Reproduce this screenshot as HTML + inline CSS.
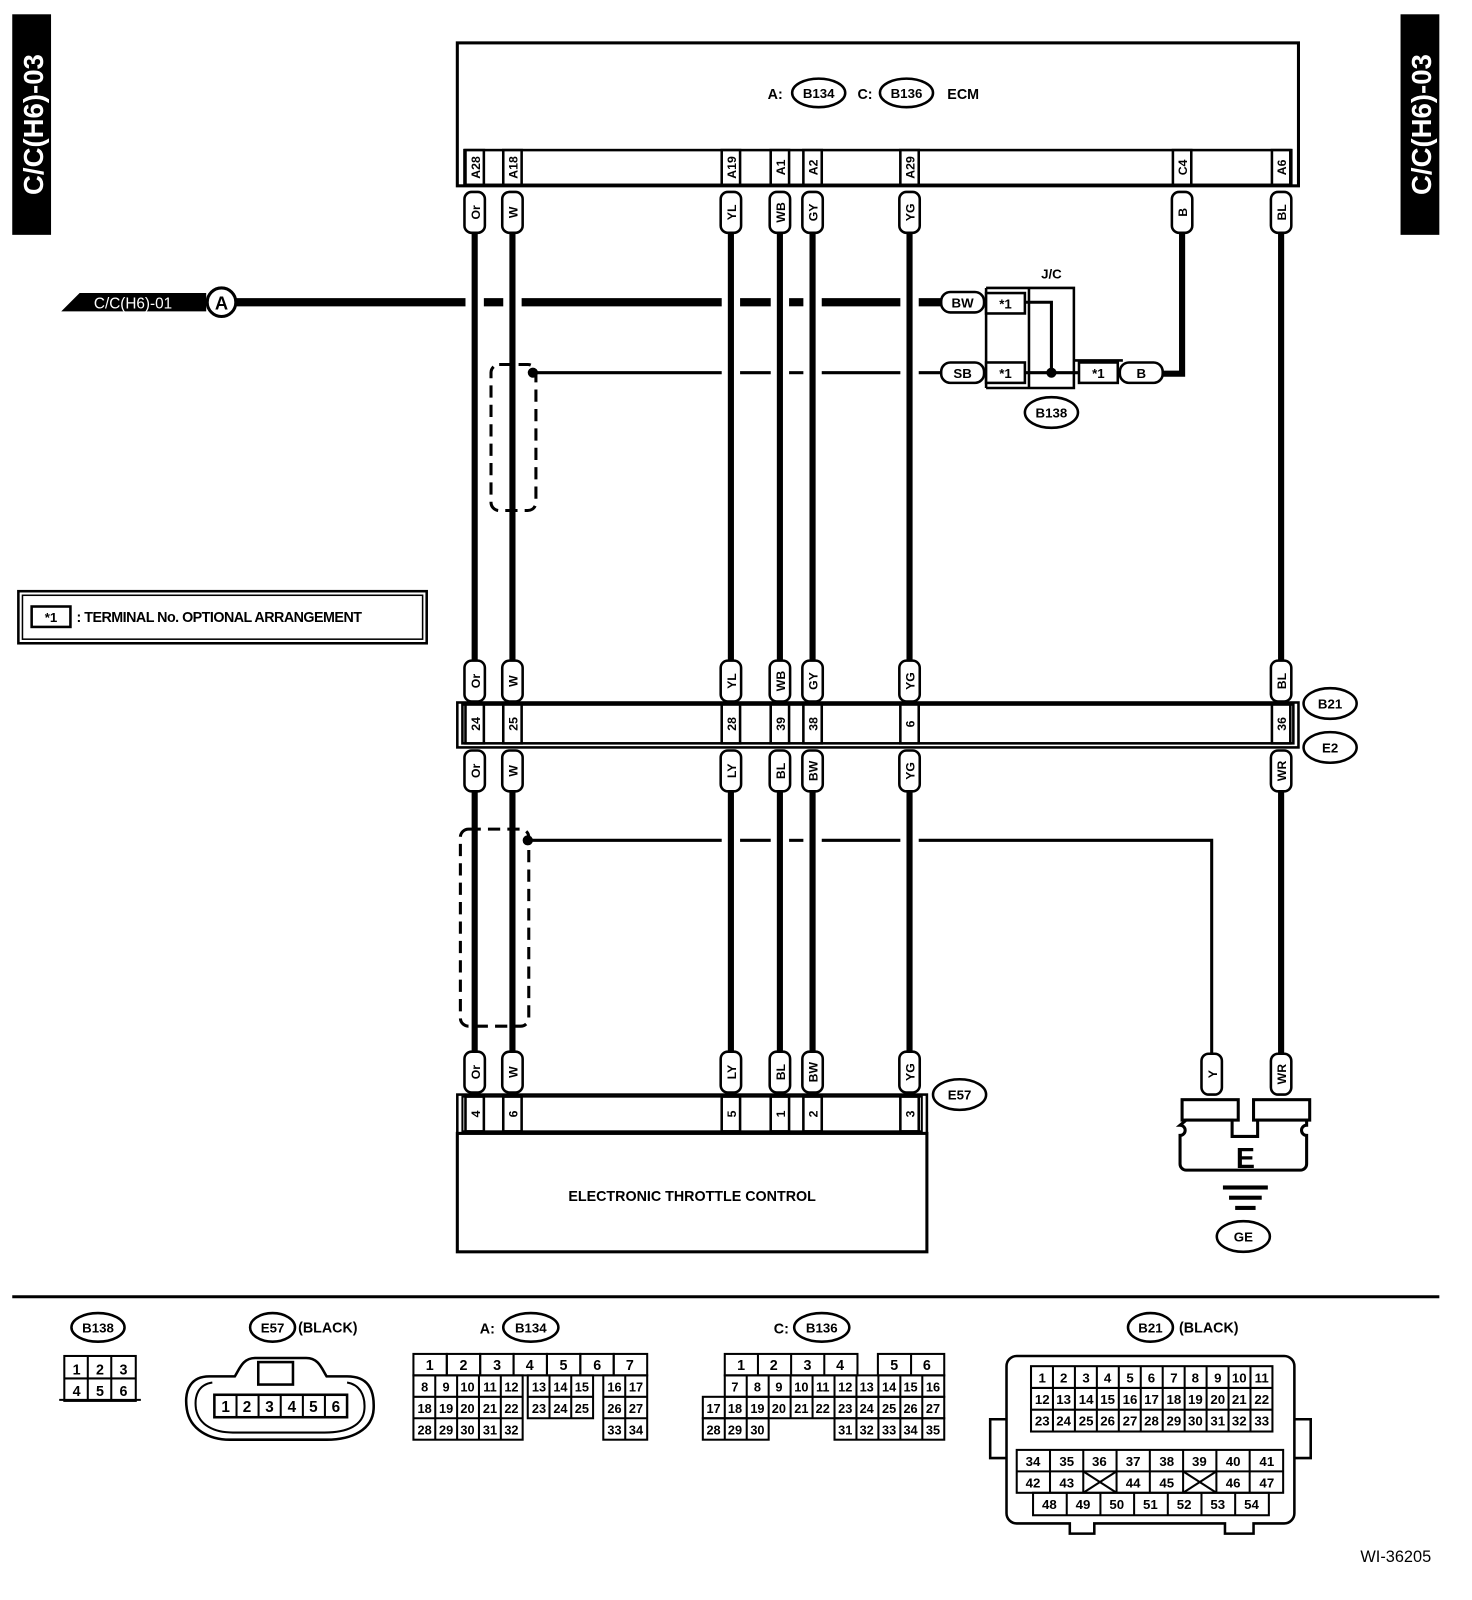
<!DOCTYPE html>
<html><head><meta charset="utf-8"><style>
html,body{margin:0;padding:0;background:#fff}
svg{display:block}
text{font-family:"Liberation Sans",sans-serif;font-weight:bold;fill:#000}
</style></head><body>
<svg width="1472" height="1600" viewBox="0 0 1442 1567" preserveAspectRatio="none" xmlns="http://www.w3.org/2000/svg">
<defs>
<g id="cap"><rect x="-10" y="0" width="20" height="40" rx="7" fill="#fff" stroke="#000" stroke-width="2.5"/></g>
</defs>
<rect x="12" y="14" width="38" height="216" fill="#000"/>
<text transform="translate(42,122) rotate(-90)" text-anchor="middle" font-size="27" style="fill:#fff">C/C(H6)-03</text>
<rect x="1372" y="14" width="38" height="216" fill="#000"/>
<text transform="translate(1402,122) rotate(-90)" text-anchor="middle" font-size="27" style="fill:#fff">C/C(H6)-03</text>

<rect x="448" y="42" width="824" height="140" fill="none" stroke="#000" stroke-width="3"/>
<text x="752" y="97" font-size="14">A:</text>
<ellipse cx="802" cy="91" rx="26" ry="14" fill="none" stroke="#000" stroke-width="2.5"/>
<text x="802" y="96" font-size="13" text-anchor="middle">B134</text>
<text x="840" y="97" font-size="14">C:</text>
<ellipse cx="888" cy="91" rx="26" ry="14" fill="none" stroke="#000" stroke-width="2.5"/>
<text x="888" y="96" font-size="13" text-anchor="middle">B136</text>
<text x="928" y="97" font-size="14">ECM</text>
<rect x="455" y="147" width="810" height="34" fill="none" stroke="#000" stroke-width="2.5"/>
<g fill="#fff" stroke="#000" stroke-width="2.5">
<rect x="456" y="147" width="18" height="34"/><rect x="493" y="147" width="18" height="34"/>
<rect x="707" y="147" width="18" height="34"/><rect x="755" y="147" width="18" height="34"/>
<rect x="787" y="147" width="18" height="34"/><rect x="882" y="147" width="18" height="34"/>
<rect x="1149" y="147" width="18" height="34"/><rect x="1246" y="147" width="18" height="34"/>
</g>
<g font-size="12">
<text transform="translate(470,164) rotate(-90)" text-anchor="middle">A28</text>
<text transform="translate(507,164) rotate(-90)" text-anchor="middle">A18</text>
<text transform="translate(721,164) rotate(-90)" text-anchor="middle">A19</text>
<text transform="translate(769,164) rotate(-90)" text-anchor="middle">A1</text>
<text transform="translate(801,164) rotate(-90)" text-anchor="middle">A2</text>
<text transform="translate(896,164) rotate(-90)" text-anchor="middle">A29</text>
<text transform="translate(1163,164) rotate(-90)" text-anchor="middle">C4</text>
<text transform="translate(1260,164) rotate(-90)" text-anchor="middle">A6</text>
</g>

<g stroke="#000" stroke-width="6">
<line x1="465" y1="228" x2="465" y2="650"/><line x1="502" y1="228" x2="502" y2="650"/>
<line x1="716" y1="228" x2="716" y2="650"/><line x1="764" y1="228" x2="764" y2="650"/>
<line x1="796" y1="228" x2="796" y2="650"/><line x1="891" y1="228" x2="891" y2="650"/>
<line x1="1255" y1="228" x2="1255" y2="650"/>
</g>
<polyline points="1158,228 1158,366 1138,366" fill="none" stroke="#000" stroke-width="6"/>

<g stroke="#000" stroke-width="8">
<line x1="230" y1="296" x2="456" y2="296"/><line x1="474" y1="296" x2="493" y2="296"/>
<line x1="511" y1="296" x2="707" y2="296"/><line x1="725" y1="296" x2="755" y2="296"/>
<line x1="773" y1="296" x2="787" y2="296"/><line x1="805" y1="296" x2="882" y2="296"/>
<line x1="900" y1="296" x2="925" y2="296"/>
</g>
<polygon points="60,305 78,287 202,287 202,305" fill="#000"/>
<text x="92" y="302" font-size="15" style="fill:#fff;font-weight:normal">C/C(H6)-01</text>
<circle cx="217" cy="296" r="14" fill="#fff" stroke="#000" stroke-width="3"/>
<text x="217" y="303" font-size="18" text-anchor="middle">A</text>

<g stroke="#000" stroke-width="3">
<line x1="522" y1="365" x2="707" y2="365"/><line x1="725" y1="365" x2="755" y2="365"/>
<line x1="773" y1="365" x2="787" y2="365"/><line x1="805" y1="365" x2="882" y2="365"/>
<line x1="900" y1="365" x2="925" y2="365"/>
</g>
<circle cx="522" cy="365" r="5" fill="#000"/>
<rect x="481" y="357" width="44" height="143" rx="8" fill="none" stroke="#000" stroke-width="3" stroke-dasharray="12,7"/>

<text x="1030" y="273" font-size="13" text-anchor="middle">J/C</text>
<g fill="none" stroke="#000" stroke-width="2.5">
<polyline points="966,282 1052,282 1052,380 966,380"/>
<line x1="966" y1="282" x2="966" y2="380"/>
<line x1="1008" y1="282" x2="1008" y2="380"/>
<line x1="1052" y1="353" x2="1100" y2="353"/>
</g>
<rect x="966" y="287" width="38" height="20" fill="#fff" stroke="#000" stroke-width="2.5"/>
<text x="985" y="302" font-size="13" text-anchor="middle">*1</text>
<rect x="966" y="355" width="38" height="20" fill="#fff" stroke="#000" stroke-width="2.5"/>
<text x="985" y="370" font-size="13" text-anchor="middle">*1</text>
<rect x="1057" y="355" width="38" height="20" fill="#fff" stroke="#000" stroke-width="2.5"/>
<text x="1076" y="370" font-size="13" text-anchor="middle">*1</text>
<polyline points="1004,296 1030,296 1030,365" fill="none" stroke="#000" stroke-width="3"/>
<line x1="1004" y1="365" x2="1057" y2="365" stroke="#000" stroke-width="3"/>
<circle cx="1030" cy="365" r="5" fill="#000"/>
<rect x="922" y="286" width="42" height="20" rx="9" fill="#fff" stroke="#000" stroke-width="2.5"/>
<text x="943" y="301" font-size="13" text-anchor="middle">BW</text>
<rect x="922" y="355" width="42" height="20" rx="9" fill="#fff" stroke="#000" stroke-width="2.5"/>
<text x="943" y="370" font-size="13" text-anchor="middle">SB</text>
<rect x="1097" y="355" width="42" height="20" rx="9" fill="#fff" stroke="#000" stroke-width="2.5"/>
<text x="1118" y="370" font-size="13" text-anchor="middle">B</text>
<ellipse cx="1030" cy="404" rx="26" ry="15" fill="#fff" stroke="#000" stroke-width="2.5"/>
<text x="1030" y="409" font-size="13" text-anchor="middle">B138</text>

<g font-size="12">
<use href="#cap" x="465" y="188"/><text transform="translate(470,208) rotate(-90)" text-anchor="middle">Or</text>
<use href="#cap" x="502" y="188"/><text transform="translate(507,208) rotate(-90)" text-anchor="middle">W</text>
<use href="#cap" x="716" y="188"/><text transform="translate(721,208) rotate(-90)" text-anchor="middle">YL</text>
<use href="#cap" x="764" y="188"/><text transform="translate(769,208) rotate(-90)" text-anchor="middle">WB</text>
<use href="#cap" x="796" y="188"/><text transform="translate(801,208) rotate(-90)" text-anchor="middle">GY</text>
<use href="#cap" x="891" y="188"/><text transform="translate(896,208) rotate(-90)" text-anchor="middle">YG</text>
<use href="#cap" x="1158" y="188"/><text transform="translate(1163,208) rotate(-90)" text-anchor="middle">B</text>
<use href="#cap" x="1255" y="188"/><text transform="translate(1260,208) rotate(-90)" text-anchor="middle">BL</text>
</g>

<rect x="18" y="579" width="400" height="51" fill="none" stroke="#000" stroke-width="2.5"/>
<rect x="22" y="583" width="392" height="43" fill="none" stroke="#000" stroke-width="1.5"/>
<rect x="31" y="594" width="38" height="20" fill="none" stroke="#000" stroke-width="2.5"/>
<text x="50" y="609" font-size="13" text-anchor="middle">*1</text>
<text x="75" y="609" font-size="14" letter-spacing="-0.5">: TERMINAL No. OPTIONAL ARRANGEMENT</text>

<rect x="448" y="688" width="824" height="44" fill="none" stroke="#000" stroke-width="2.5"/>
<rect x="453" y="690" width="814" height="38" fill="none" stroke="#000" stroke-width="2.5"/>
<g fill="#fff" stroke="#000" stroke-width="2.5">
<rect x="456" y="690" width="18" height="38"/><rect x="493" y="690" width="18" height="38"/>
<rect x="707" y="690" width="18" height="38"/><rect x="755" y="690" width="18" height="38"/>
<rect x="787" y="690" width="18" height="38"/><rect x="882" y="690" width="18" height="38"/>
<rect x="1246" y="690" width="18" height="38"/>
</g>
<g font-size="12">
<text transform="translate(470,709) rotate(-90)" text-anchor="middle">24</text>
<text transform="translate(507,709) rotate(-90)" text-anchor="middle">25</text>
<text transform="translate(721,709) rotate(-90)" text-anchor="middle">28</text>
<text transform="translate(769,709) rotate(-90)" text-anchor="middle">39</text>
<text transform="translate(801,709) rotate(-90)" text-anchor="middle">38</text>
<text transform="translate(896,709) rotate(-90)" text-anchor="middle">6</text>
<text transform="translate(1260,709) rotate(-90)" text-anchor="middle">36</text>
<use href="#cap" x="465" y="647"/><text transform="translate(470,667) rotate(-90)" text-anchor="middle">Or</text>
<use href="#cap" x="502" y="647"/><text transform="translate(507,667) rotate(-90)" text-anchor="middle">W</text>
<use href="#cap" x="716" y="647"/><text transform="translate(721,667) rotate(-90)" text-anchor="middle">YL</text>
<use href="#cap" x="764" y="647"/><text transform="translate(769,667) rotate(-90)" text-anchor="middle">WB</text>
<use href="#cap" x="796" y="647"/><text transform="translate(801,667) rotate(-90)" text-anchor="middle">GY</text>
<use href="#cap" x="891" y="647"/><text transform="translate(896,667) rotate(-90)" text-anchor="middle">YG</text>
<use href="#cap" x="1255" y="647"/><text transform="translate(1260,667) rotate(-90)" text-anchor="middle">BL</text>
<use href="#cap" x="465" y="735"/><text transform="translate(470,755) rotate(-90)" text-anchor="middle">Or</text>
<use href="#cap" x="502" y="735"/><text transform="translate(507,755) rotate(-90)" text-anchor="middle">W</text>
<use href="#cap" x="716" y="735"/><text transform="translate(721,755) rotate(-90)" text-anchor="middle">LY</text>
<use href="#cap" x="764" y="735"/><text transform="translate(769,755) rotate(-90)" text-anchor="middle">BL</text>
<use href="#cap" x="796" y="735"/><text transform="translate(801,755) rotate(-90)" text-anchor="middle">BW</text>
<use href="#cap" x="891" y="735"/><text transform="translate(896,755) rotate(-90)" text-anchor="middle">YG</text>
<use href="#cap" x="1255" y="735"/><text transform="translate(1260,755) rotate(-90)" text-anchor="middle">WR</text>
</g>
<ellipse cx="1303" cy="689" rx="26" ry="15" fill="#fff" stroke="#000" stroke-width="2.5"/>
<text x="1303" y="694" font-size="13" text-anchor="middle">B21</text>
<ellipse cx="1303" cy="732" rx="26" ry="15" fill="#fff" stroke="#000" stroke-width="2.5"/>
<text x="1303" y="737" font-size="13" text-anchor="middle">E2</text>

<g stroke="#000" stroke-width="6">
<line x1="465" y1="775" x2="465" y2="1030"/><line x1="502" y1="775" x2="502" y2="1030"/>
<line x1="716" y1="775" x2="716" y2="1030"/><line x1="764" y1="775" x2="764" y2="1030"/>
<line x1="796" y1="775" x2="796" y2="1030"/><line x1="891" y1="775" x2="891" y2="1030"/>
<line x1="1255" y1="775" x2="1255" y2="1032"/>
</g>
<polyline points="517,823 707,823" stroke="#000" stroke-width="3" fill="none"/>
<line x1="725" y1="823" x2="755" y2="823" stroke="#000" stroke-width="3"/>
<line x1="773" y1="823" x2="787" y2="823" stroke="#000" stroke-width="3"/>
<line x1="805" y1="823" x2="882" y2="823" stroke="#000" stroke-width="3"/>
<polyline points="900,823 1187,823 1187,1032" stroke="#000" stroke-width="3" fill="none"/>
<circle cx="517" cy="823" r="5" fill="#000"/>
<rect x="451" y="812" width="67" height="193" rx="8" fill="none" stroke="#000" stroke-width="3" stroke-dasharray="12,7"/>

<g font-size="12">
<use href="#cap" x="465" y="1030"/><text transform="translate(470,1050) rotate(-90)" text-anchor="middle">Or</text>
<use href="#cap" x="502" y="1030"/><text transform="translate(507,1050) rotate(-90)" text-anchor="middle">W</text>
<use href="#cap" x="716" y="1030"/><text transform="translate(721,1050) rotate(-90)" text-anchor="middle">LY</text>
<use href="#cap" x="764" y="1030"/><text transform="translate(769,1050) rotate(-90)" text-anchor="middle">BL</text>
<use href="#cap" x="796" y="1030"/><text transform="translate(801,1050) rotate(-90)" text-anchor="middle">BW</text>
<use href="#cap" x="891" y="1030"/><text transform="translate(896,1050) rotate(-90)" text-anchor="middle">YG</text>
</g>
<rect x="448" y="1072" width="460" height="38" fill="none" stroke="#000" stroke-width="2.5"/>
<rect x="453" y="1074" width="450" height="34" fill="none" stroke="#000" stroke-width="2"/>
<g fill="#fff" stroke="#000" stroke-width="2.5">
<rect x="456" y="1074" width="18" height="34"/><rect x="493" y="1074" width="18" height="34"/>
<rect x="707" y="1074" width="18" height="34"/><rect x="755" y="1074" width="18" height="34"/>
<rect x="787" y="1074" width="18" height="34"/><rect x="882" y="1074" width="18" height="34"/>
</g>
<g font-size="12">
<text transform="translate(470,1091) rotate(-90)" text-anchor="middle">4</text>
<text transform="translate(507,1091) rotate(-90)" text-anchor="middle">6</text>
<text transform="translate(721,1091) rotate(-90)" text-anchor="middle">5</text>
<text transform="translate(769,1091) rotate(-90)" text-anchor="middle">1</text>
<text transform="translate(801,1091) rotate(-90)" text-anchor="middle">2</text>
<text transform="translate(896,1091) rotate(-90)" text-anchor="middle">3</text>
</g>
<ellipse cx="940" cy="1072" rx="26" ry="15" fill="#fff" stroke="#000" stroke-width="2.5"/>
<text x="940" y="1077" font-size="13" text-anchor="middle">E57</text>
<rect x="448" y="1110" width="460" height="116" fill="none" stroke="#000" stroke-width="3"/>
<text x="678" y="1176" font-size="14" text-anchor="middle">ELECTRONIC THROTTLE CONTROL</text>

<g font-size="12">
<use href="#cap" x="1187" y="1032"/><text transform="translate(1192,1052) rotate(-90)" text-anchor="middle">Y</text>
<use href="#cap" x="1255" y="1032"/><text transform="translate(1260,1052) rotate(-90)" text-anchor="middle">WR</text>
</g>
<rect x="1158" y="1077" width="55" height="20" fill="#fff" stroke="#000" stroke-width="3"/>
<rect x="1228" y="1077" width="55" height="20" fill="#fff" stroke="#000" stroke-width="3"/>
<path d="M1162,1097 h45 v16 h25 v-16 h48 v5 a4,4 0 0 0 0,10 v28 a6,6 0 0 1 -6,6 h-112 a6,6 0 0 1 -6,-6 v-28 a4,4 0 0 0 0,-10 z" fill="#fff" stroke="#000" stroke-width="3"/>
<text x="1220" y="1144" font-size="28" text-anchor="middle">E</text>
<rect x="1198" y="1161" width="44" height="4" fill="#000"/>
<rect x="1204" y="1171" width="32" height="4" fill="#000"/>
<rect x="1210" y="1181" width="20" height="4" fill="#000"/>
<ellipse cx="1218" cy="1211" rx="26" ry="15" fill="#fff" stroke="#000" stroke-width="2.5"/>
<text x="1218" y="1216" font-size="13" text-anchor="middle">GE</text>

<line x1="12" y1="1270" x2="1410" y2="1270" stroke="#000" stroke-width="3"/>

<ellipse cx="96" cy="1300" rx="26" ry="14" fill="#fff" stroke="#000" stroke-width="2.5"/>
<text x="96" y="1305" font-size="13" text-anchor="middle">B138</text>
<g fill="none" stroke="#000" stroke-width="2">
<rect x="63" y="1328" width="70" height="44"/>
<line x1="86" y1="1328" x2="86" y2="1372"/><line x1="109" y1="1328" x2="109" y2="1372"/>
<line x1="63" y1="1350" x2="133" y2="1350"/>
<line x1="58" y1="1371" x2="138" y2="1371"/>
</g>
<g font-size="14" text-anchor="middle" style="font-weight:normal">
<text x="75" y="1346">1</text><text x="98" y="1346">2</text><text x="121" y="1346">3</text>
<text x="75" y="1367">4</text><text x="98" y="1367">5</text><text x="121" y="1367">6</text>
</g>

<ellipse cx="267" cy="1300" rx="22" ry="14" fill="#fff" stroke="#000" stroke-width="2.5"/>
<text x="267" y="1305" font-size="13" text-anchor="middle">E57</text>
<text x="292" y="1305" font-size="14">(BLACK)</text>
<path d="M205,1348 C188,1348 180,1360 183,1380 C186,1400 205,1410 225,1410 L320,1410 C345,1410 365,1400 366,1380 C367,1360 360,1348 340,1348 L320,1348 C315,1340 312,1330 300,1330 L250,1330 C238,1330 235,1340 230,1348 Z" fill="none" stroke="#000" stroke-width="2.5"/>
<path d="M208,1354 C195,1356 190,1366 192,1380 C195,1396 210,1403 228,1403 L318,1403 C340,1403 356,1396 357,1380 C358,1366 352,1356 340,1354" fill="none" stroke="#000" stroke-width="2"/>
<rect x="253" y="1334" width="34" height="22" fill="none" stroke="#000" stroke-width="2.5"/>
<rect x="210" y="1366" width="130" height="22" fill="none" stroke="#000" stroke-width="2.5"/>
<g stroke="#000" stroke-width="2"><line x1="231.7" y1="1366" x2="231.7" y2="1388"/><line x1="253.3" y1="1366" x2="253.3" y2="1388"/><line x1="275" y1="1366" x2="275" y2="1388"/><line x1="296.7" y1="1366" x2="296.7" y2="1388"/><line x1="318.3" y1="1366" x2="318.3" y2="1388"/></g>
<g font-size="15" text-anchor="middle" style="font-weight:normal">
<text x="221" y="1383">1</text><text x="242" y="1383">2</text><text x="264" y="1383">3</text><text x="286" y="1383">4</text><text x="307" y="1383">5</text><text x="329" y="1383">6</text>
</g>

<text x="470" y="1306" font-size="14">A:</text>
<ellipse cx="520" cy="1300" rx="27" ry="14" fill="#fff" stroke="#000" stroke-width="2.5"/>
<text x="520" y="1305" font-size="13" text-anchor="middle">B134</text>
<g fill="none" stroke="#000" stroke-width="2">
<rect x="405" y="1326" width="32.7" height="21"/><rect x="437.7" y="1326" width="32.7" height="21"/><rect x="470.4" y="1326" width="32.7" height="21"/><rect x="503.1" y="1326" width="32.7" height="21"/><rect x="535.8" y="1326" width="32.7" height="21"/><rect x="568.5" y="1326" width="32.7" height="21"/><rect x="601.2" y="1326" width="32.8" height="21"/>
</g>
<g font-size="14" text-anchor="middle" style="font-weight:normal">
<text x="421" y="1342">1</text><text x="454" y="1342">2</text><text x="487" y="1342">3</text><text x="519" y="1342">4</text><text x="552" y="1342">5</text><text x="585" y="1342">6</text><text x="617" y="1342">7</text>
</g>
<g fill="none" stroke="#000" stroke-width="2">
<rect x="405" y="1347" width="107" height="63"/>
<rect x="517" y="1347" width="64" height="42"/>
<rect x="591" y="1347" width="43" height="63"/>
<line x1="426.4" y1="1347" x2="426.4" y2="1410"/><line x1="447.8" y1="1347" x2="447.8" y2="1410"/><line x1="469.2" y1="1347" x2="469.2" y2="1410"/><line x1="490.6" y1="1347" x2="490.6" y2="1410"/>
<line x1="405" y1="1368" x2="512" y2="1368"/><line x1="405" y1="1389" x2="512" y2="1389"/>
<line x1="538.3" y1="1347" x2="538.3" y2="1389"/><line x1="559.6" y1="1347" x2="559.6" y2="1389"/><line x1="517" y1="1368" x2="581" y2="1368"/>
<line x1="612.5" y1="1347" x2="612.5" y2="1410"/><line x1="591" y1="1368" x2="634" y2="1368"/><line x1="591" y1="1389" x2="634" y2="1389"/>
</g>
<g font-size="12.5" text-anchor="middle" style="font-weight:normal">
<text x="416" y="1363">8</text><text x="437" y="1363">9</text><text x="458" y="1363">10</text><text x="480" y="1363">11</text><text x="501" y="1363">12</text>
<text x="528" y="1363">13</text><text x="549" y="1363">14</text><text x="570" y="1363">15</text><text x="602" y="1363">16</text><text x="623" y="1363">17</text>
<text x="416" y="1384">18</text><text x="437" y="1384">19</text><text x="458" y="1384">20</text><text x="480" y="1384">21</text><text x="501" y="1384">22</text>
<text x="528" y="1384">23</text><text x="549" y="1384">24</text><text x="570" y="1384">25</text><text x="602" y="1384">26</text><text x="623" y="1384">27</text>
<text x="416" y="1405">28</text><text x="437" y="1405">29</text><text x="458" y="1405">30</text><text x="480" y="1405">31</text><text x="501" y="1405">32</text>
<text x="602" y="1405">33</text><text x="623" y="1405">34</text>
</g>

<text x="758" y="1306" font-size="14">C:</text>
<ellipse cx="805" cy="1300" rx="27" ry="14" fill="#fff" stroke="#000" stroke-width="2.5"/>
<text x="805" y="1305" font-size="13" text-anchor="middle">B136</text>
<g fill="none" stroke="#000" stroke-width="2">
<rect x="710" y="1326" width="130" height="21"/><line x1="742.5" y1="1326" x2="742.5" y2="1347"/><line x1="775" y1="1326" x2="775" y2="1347"/><line x1="807.5" y1="1326" x2="807.5" y2="1347"/>
<rect x="860" y="1326" width="65" height="21"/><line x1="892.5" y1="1326" x2="892.5" y2="1347"/>
<rect x="710" y="1347" width="215" height="21"/>
<rect x="688.5" y="1368" width="236.5" height="21"/>
<rect x="688.5" y="1389" width="64.5" height="21"/>
<rect x="817.5" y="1389" width="107.5" height="21"/>
<line x1="710" y1="1368" x2="710" y2="1410"/><line x1="731.5" y1="1347" x2="731.5" y2="1410"/><line x1="753" y1="1347" x2="753" y2="1389"/>
<line x1="774.5" y1="1347" x2="774.5" y2="1389"/><line x1="796" y1="1347" x2="796" y2="1389"/><line x1="817.5" y1="1347" x2="817.5" y2="1389"/>
<line x1="839" y1="1347" x2="839" y2="1410"/><line x1="860.5" y1="1347" x2="860.5" y2="1410"/><line x1="882" y1="1347" x2="882" y2="1410"/><line x1="903.5" y1="1347" x2="903.5" y2="1410"/>
</g>
<g font-size="14" text-anchor="middle" style="font-weight:normal">
<text x="726" y="1342">1</text><text x="758" y="1342">2</text><text x="791" y="1342">3</text><text x="823" y="1342">4</text><text x="876" y="1342">5</text><text x="908" y="1342">6</text>
</g>
<g font-size="12.5" text-anchor="middle" style="font-weight:normal">
<text x="720" y="1363">7</text><text x="742" y="1363">8</text><text x="763" y="1363">9</text><text x="785" y="1363">10</text><text x="806" y="1363">11</text><text x="828" y="1363">12</text><text x="849" y="1363">13</text><text x="871" y="1363">14</text><text x="892" y="1363">15</text><text x="914" y="1363">16</text>
<text x="699" y="1384">17</text><text x="720" y="1384">18</text><text x="742" y="1384">19</text><text x="763" y="1384">20</text><text x="785" y="1384">21</text><text x="806" y="1384">22</text><text x="828" y="1384">23</text><text x="849" y="1384">24</text><text x="871" y="1384">25</text><text x="892" y="1384">26</text><text x="914" y="1384">27</text>
<text x="699" y="1405">28</text><text x="720" y="1405">29</text><text x="742" y="1405">30</text><text x="828" y="1405">31</text><text x="849" y="1405">32</text><text x="871" y="1405">33</text><text x="892" y="1405">34</text><text x="914" y="1405">35</text>
</g>

<ellipse cx="1127" cy="1300" rx="22" ry="14" fill="#fff" stroke="#000" stroke-width="2.5"/>
<text x="1127" y="1305" font-size="13" text-anchor="middle">B21</text>
<text x="1155" y="1305" font-size="14">(BLACK)</text>
<path d="M996,1328 H1258 a10,10 0 0 1 10,10 V1482 a10,10 0 0 1 -10,10 H1228 V1502 H1200 V1492 H1072 V1502 H1048 V1492 H996 a10,10 0 0 1 -10,-10 V1338 a10,10 0 0 1 10,-10 Z" fill="none" stroke="#000" stroke-width="2.5"/>
<polyline points="986,1390 970,1390 970,1428 986,1428" fill="none" stroke="#000" stroke-width="2.5"/>
<polyline points="1268,1390 1284,1390 1284,1428 1268,1428" fill="none" stroke="#000" stroke-width="2.5"/>
<g fill="none" stroke="#000" stroke-width="2">
<rect x="1010" y="1338" width="236.5" height="64"/>
<line x1="1010" y1="1359.3" x2="1246.5" y2="1359.3"/><line x1="1010" y1="1380.6" x2="1246.5" y2="1380.6"/>
<line x1="1031.5" y1="1338" x2="1031.5" y2="1402"/><line x1="1053" y1="1338" x2="1053" y2="1402"/><line x1="1074.5" y1="1338" x2="1074.5" y2="1402"/><line x1="1096" y1="1338" x2="1096" y2="1402"/><line x1="1117.5" y1="1338" x2="1117.5" y2="1402"/><line x1="1139" y1="1338" x2="1139" y2="1402"/><line x1="1160.5" y1="1338" x2="1160.5" y2="1402"/><line x1="1182" y1="1338" x2="1182" y2="1402"/><line x1="1203.5" y1="1338" x2="1203.5" y2="1402"/><line x1="1225" y1="1338" x2="1225" y2="1402"/>
<rect x="996" y="1420" width="261" height="42"/>
<line x1="996" y1="1441" x2="1257" y2="1441"/>
<line x1="1028.6" y1="1420" x2="1028.6" y2="1462"/><line x1="1061.2" y1="1420" x2="1061.2" y2="1462"/><line x1="1093.8" y1="1420" x2="1093.8" y2="1462"/><line x1="1126.4" y1="1420" x2="1126.4" y2="1462"/><line x1="1159" y1="1420" x2="1159" y2="1462"/><line x1="1191.6" y1="1420" x2="1191.6" y2="1462"/><line x1="1224.2" y1="1420" x2="1224.2" y2="1462"/>
<line x1="1061.2" y1="1441" x2="1093.8" y2="1462"/><line x1="1093.8" y1="1441" x2="1061.2" y2="1462"/>
<line x1="1159" y1="1441" x2="1191.6" y2="1462"/><line x1="1191.6" y1="1441" x2="1159" y2="1462"/>
<rect x="1012" y="1462" width="231" height="22"/>
<line x1="1045" y1="1462" x2="1045" y2="1484"/><line x1="1078" y1="1462" x2="1078" y2="1484"/><line x1="1111" y1="1462" x2="1111" y2="1484"/><line x1="1144" y1="1462" x2="1144" y2="1484"/><line x1="1177" y1="1462" x2="1177" y2="1484"/><line x1="1210" y1="1462" x2="1210" y2="1484"/>
</g>
<g font-size="13" text-anchor="middle" style="font-weight:normal">
<text x="1021" y="1354">1</text><text x="1042" y="1354">2</text><text x="1064" y="1354">3</text><text x="1085" y="1354">4</text><text x="1107" y="1354">5</text><text x="1128" y="1354">6</text><text x="1150" y="1354">7</text><text x="1171" y="1354">8</text><text x="1193" y="1354">9</text><text x="1214" y="1354">10</text><text x="1236" y="1354">11</text>
<text x="1021" y="1375">12</text><text x="1042" y="1375">13</text><text x="1064" y="1375">14</text><text x="1085" y="1375">15</text><text x="1107" y="1375">16</text><text x="1128" y="1375">17</text><text x="1150" y="1375">18</text><text x="1171" y="1375">19</text><text x="1193" y="1375">20</text><text x="1214" y="1375">21</text><text x="1236" y="1375">22</text>
<text x="1021" y="1396">23</text><text x="1042" y="1396">24</text><text x="1064" y="1396">25</text><text x="1085" y="1396">26</text><text x="1107" y="1396">27</text><text x="1128" y="1396">28</text><text x="1150" y="1396">29</text><text x="1171" y="1396">30</text><text x="1193" y="1396">31</text><text x="1214" y="1396">32</text><text x="1236" y="1396">33</text>
<text x="1012" y="1436">34</text><text x="1045" y="1436">35</text><text x="1077" y="1436">36</text><text x="1110" y="1436">37</text><text x="1143" y="1436">38</text><text x="1175" y="1436">39</text><text x="1208" y="1436">40</text><text x="1241" y="1436">41</text>
<text x="1012" y="1457">42</text><text x="1045" y="1457">43</text><text x="1110" y="1457">44</text><text x="1143" y="1457">45</text><text x="1208" y="1457">46</text><text x="1241" y="1457">47</text>
<text x="1028" y="1478">48</text><text x="1061" y="1478">49</text><text x="1094" y="1478">50</text><text x="1127" y="1478">51</text><text x="1160" y="1478">52</text><text x="1193" y="1478">53</text><text x="1226" y="1478">54</text>
</g>

<text x="1402" y="1530" font-size="16" text-anchor="end" style="font-weight:normal">WI-36205</text>
</svg>
</body></html>
